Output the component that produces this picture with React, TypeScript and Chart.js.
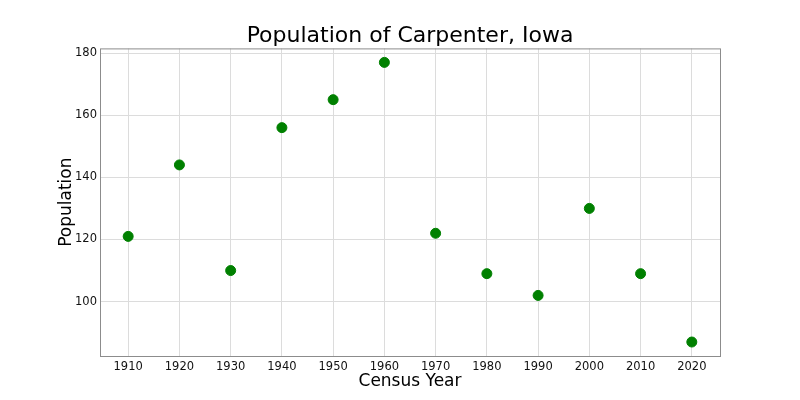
import React, { useEffect, useRef } from "react";
import { Chart, registerables } from "chart.js";

Chart.register(...registerables);

const years = [1910, 1920, 1930, 1940, 1950, 1960, 1970, 1980, 1990, 2000, 2010, 2020];
const population = [121, 144, 110, 156, 165, 177, 122, 109, 102, 130, 109, 87];
const xTicks = [1910, 1920, 1930, 1940, 1950, 1960, 1970, 1980, 1990, 2000, 2010, 2020];
const yTicks = [100, 120, 140, 160, 180];

const FONT = "'DejaVu Sans', sans-serif";

const frame = {
  id: "frame",
  afterDatasetsDraw(chart: any) {
    const { ctx, chartArea } = chart;
    ctx.save();
    ctx.strokeStyle = "#8c8c8c";
    ctx.lineWidth = 1;
    ctx.strokeRect(chartArea.left + 0.5, chartArea.top + 0.5, chartArea.right - chartArea.left, chartArea.bottom - chartArea.top);
    ctx.restore();
  },
};

export default function App() {
  const ref = useRef<HTMLCanvasElement>(null);
  useEffect(() => {
    const chart = new Chart(ref.current!, {
      type: "scatter",
      data: {
        datasets: [
          {
            data: years.map((y, i) => ({ x: y, y: population[i] })),
            backgroundColor: "#008000",
            borderColor: "#008000",
            pointRadius: 5,
            pointHoverRadius: 5,
          },
        ],
      },
      options: {
        animation: false,
        responsive: false,
        layout: { padding: { left: 56, right: 36, top: 0, bottom: 8 } },
        plugins: {
          legend: { display: false },
          tooltip: { enabled: false },
          title: {
            display: true,
            text: "Population of Carpenter, Iowa",
            color: "#000",
            font: { family: FONT, size: 22, weight: "normal" },
            padding: { top: 23, bottom: -1 },
          },
        },
        scales: {
          x: {
            type: "linear",
            min: 1904.5,
            max: 2025.5,
            afterBuildTicks: (s: any) => {
              s.ticks = xTicks.map((v) => ({ value: v }));
            },
            afterFit: (s: any) => {
              s.height = 36;
            },
            grid: { color: "#dcdcdc", drawTicks: false },
            border: { display: false },
            ticks: {
              color: "#111",
              font: { family: FONT, size: 11.5 },
              padding: 4,
              maxRotation: 0,
              callback: (v: any) => String(v),
            },
            title: {
              display: true,
              text: "Census Year",
              color: "#000",
              font: { family: FONT, size: 17 },
              padding: { top: 0, bottom: 0 },
            },
          },
          y: {
            type: "linear",
            min: 82.5,
            max: 181.5,
            afterBuildTicks: (s: any) => {
              s.ticks = yTicks.map((v) => ({ value: v }));
            },
            afterFit: (s: any) => {
              s.width = 44;
            },
            grid: { color: "#dcdcdc", drawTicks: false },
            border: { display: false },
            ticks: {
              color: "#111",
              font: { family: FONT, size: 11.5 },
              padding: 3,
            },
            title: {
              display: true,
              text: "Population",
              color: "#000",
              font: { family: FONT, size: 17 },
              padding: { top: 0, bottom: 0 },
            },
          },
          y2: {
            type: "linear",
            position: "right",
            display: true,
            afterFit: (s: any) => {
              s.width = 44;
            },
            grid: { display: false, drawTicks: false },
            border: { display: false },
            ticks: { display: false },
          },
        },
      },
      plugins: [frame],
    } as any);
    return () => chart.destroy();
  }, []);
  return (
    <div style={{ position: "fixed", left: 0, top: 0, width: 800, height: 400, background: "#fff" }}>
      <canvas ref={ref} width={800} height={400} />
    </div>
  );
}
